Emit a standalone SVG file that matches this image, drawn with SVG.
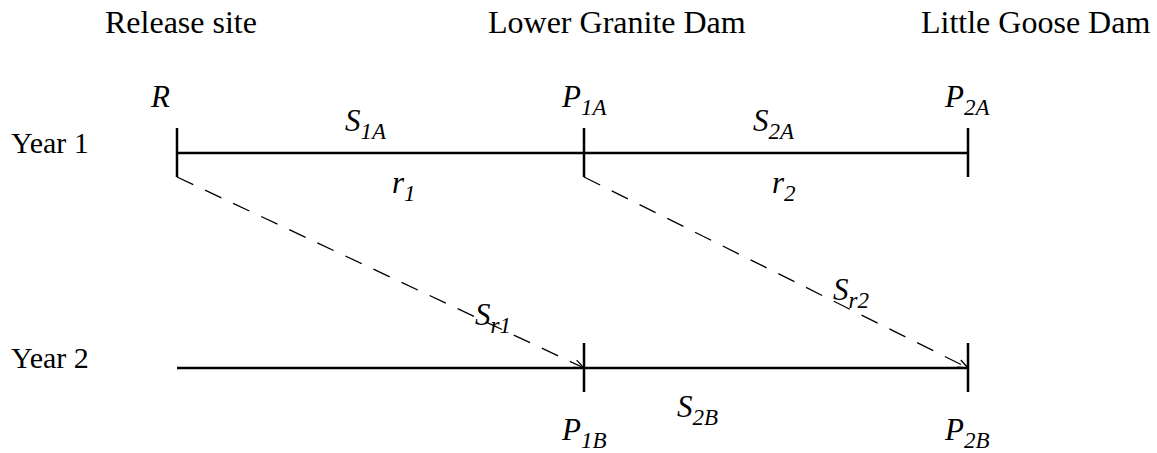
<svg xmlns="http://www.w3.org/2000/svg" width="1157" height="453" viewBox="0 0 1157 453">
<defs>
<marker id="ah" viewBox="0 0 12 10" refX="11" refY="5" markerWidth="12" markerHeight="10" markerUnits="userSpaceOnUse" orient="auto">
<polyline points="1,1 11,5 1,9" fill="none" stroke="#000" stroke-width="1.3"/>
</marker>
</defs>
<rect width="1157" height="453" fill="#fff"/>
<g id="headers">
<text x="105" y="33" font-family="Liberation Serif" font-size="32" style="font-family:'Liberation Serif'">Release site</text>
<text x="488" y="33" font-family="Liberation Serif" font-size="32" style="font-family:'Liberation Serif'">Lower Granite Dam</text>
<text x="921" y="33" font-family="Liberation Serif" font-size="32" style="font-family:'Liberation Serif'">Little Goose Dam</text>
</g>
<g id="year-labels">
<text x="11" y="153" font-family="Liberation Serif" font-size="30" style="font-family:'Liberation Serif'">Year 1</text>
<text x="11" y="368" font-family="Liberation Serif" font-size="30" style="font-family:'Liberation Serif'">Year 2</text>
</g>
<g id="connectors" stroke="#000" fill="none">
<line stroke-width="2.5" x1="177" y1="153" x2="968" y2="153"/>
<line stroke-width="2.5" x1="177" y1="368" x2="968" y2="368"/>
<line stroke-width="1.3" stroke-dasharray="18 13" x1="177" y1="177" x2="584" y2="368" marker-end="url(#ah)"/>
<line stroke-width="1.3" stroke-dasharray="18 13" x1="584" y1="177" x2="968" y2="368" marker-end="url(#ah)"/>
</g>
<g id="nodes" stroke="#000" stroke-width="2.5">
<line id="node-R" x1="177" y1="128" x2="177" y2="177"/>
<line id="node-P1A" x1="584" y1="128" x2="584" y2="177"/>
<line id="node-P2A" x1="968" y1="128" x2="968" y2="177"/>
<line id="node-P1B" x1="584" y1="343" x2="584" y2="392"/>
<line id="node-P2B" x1="968" y1="343" x2="968" y2="392"/>
</g>
<g id="node-labels">
<text x="151" y="107" font-family="Liberation Serif" font-size="31" font-style="italic" style="font-family:'Liberation Serif'">R</text>
<text x="562" y="107" font-family="Liberation Serif" font-size="31" font-style="italic" style="font-family:'Liberation Serif'">P<tspan font-size="23" dy="8">1A</tspan></text>
<text x="945" y="107" font-family="Liberation Serif" font-size="31" font-style="italic" style="font-family:'Liberation Serif'">P<tspan font-size="23" dy="8">2A</tspan></text>
<text x="562" y="440" font-family="Liberation Serif" font-size="31" font-style="italic" style="font-family:'Liberation Serif'">P<tspan font-size="23" dy="8">1B</tspan></text>
<text x="945" y="440" font-family="Liberation Serif" font-size="31" font-style="italic" style="font-family:'Liberation Serif'">P<tspan font-size="23" dy="8">2B</tspan></text>
</g>
<g id="edge-labels">
<text x="345" y="131" font-family="Liberation Serif" font-size="31" font-style="italic" style="font-family:'Liberation Serif'">S<tspan font-size="23" dy="8">1A</tspan></text>
<text x="753" y="131" font-family="Liberation Serif" font-size="31" font-style="italic" style="font-family:'Liberation Serif'">S<tspan font-size="23" dy="8">2A</tspan></text>
<text x="392" y="193" font-family="Liberation Serif" font-size="31" font-style="italic" style="font-family:'Liberation Serif'">r<tspan font-size="23" dy="8">1</tspan></text>
<text x="772" y="193" font-family="Liberation Serif" font-size="31" font-style="italic" style="font-family:'Liberation Serif'">r<tspan font-size="23" dy="8">2</tspan></text>
<text x="475" y="325" font-family="Liberation Serif" font-size="31" font-style="italic" style="font-family:'Liberation Serif'">S<tspan font-size="23" dy="8">r1</tspan></text>
<text x="833" y="300" font-family="Liberation Serif" font-size="31" font-style="italic" style="font-family:'Liberation Serif'">S<tspan font-size="23" dy="8">r2</tspan></text>
<text x="677" y="417" font-family="Liberation Serif" font-size="31" font-style="italic" style="font-family:'Liberation Serif'">S<tspan font-size="23" dy="8">2B</tspan></text>
</g>
</svg>
